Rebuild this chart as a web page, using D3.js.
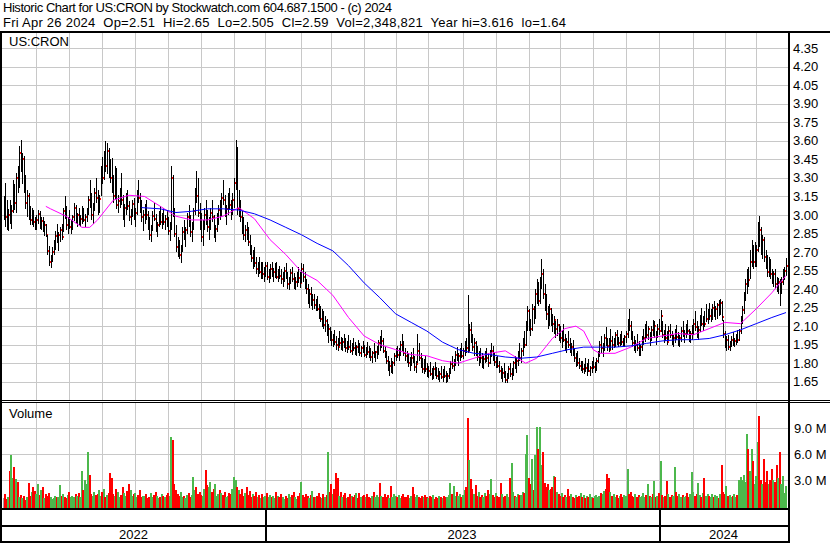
<!DOCTYPE html>
<html>
<head>
<meta charset="utf-8">
<script src="https://cdn.jsdelivr.net/npm/d3@7"></script>
<style>
html, body { margin: 0; padding: 0; background: #fff; }
svg { display: block; font-family: Arial, "Liberation Sans", sans-serif; }
text { white-space: pre; }
</style>
</head>
<body>
<svg id="chart" width="830" height="543"></svg>
<script>
// header text
const titleLine = "Historic Chart for US:CRON by Stockwatch.com 604.687.1500 - (c) 2024"
const quoteLine = "Fri Apr 26 2024  Op=2.51  Hi=2.65  Lo=2.505  Cl=2.59  Vol=2,348,821  Year hi=3.616  lo=1.64"
const symbol = "US:CRON"

// daily bars, prices in cents (May 2022 .. Apr 26 2024)
const highs = [315,326,312,305,312,308,328,325,334,340,
356,361,350,348,332,320,318,307,306,304,
298,300,304,303,298,298,295,293,284,275,
268,274,280,287,293,286,290,293,306,315,
307,298,304,296,300,310,308,302,306,300,
307,306,301,306,315,328,318,310,322,330,
320,316,340,347,352,360,358,354,345,346,
332,340,338,316,322,334,316,309,318,320,
311,305,312,314,306,320,328,318,312,304,
309,312,303,298,292,303,310,301,294,303,
307,302,306,300,304,298,294,340,332,306,
292,282,280,276,290,296,290,302,308,300,
294,306,322,336,330,310,302,296,306,312,
304,298,306,312,300,292,302,308,312,318,
328,316,308,318,322,312,318,330,361,355,
320,312,303,298,292,294,290,284,276,272,
274,266,262,266,262,262,258,262,262,256,
260,262,257,261,262,256,259,256,254,258,
261,254,250,256,258,253,250,254,258,254,
261,260,254,248,244,240,242,236,236,232,
234,228,226,224,222,218,216,212,209,206,
204,207,202,200,206,201,200,204,200,198,
203,199,196,200,197,195,199,196,194,198,
195,193,197,194,192,190,196,190,194,199,
202,207,200,194,190,186,182,184,182,188,
192,194,192,198,204,198,192,190,188,185,
189,192,186,182,204,196,188,184,183,186,
180,178,181,176,178,181,177,176,174,178,
175,178,174,172,176,182,186,183,190,193,
188,192,196,192,198,200,235,212,213,204,
200,198,194,190,192,188,186,190,192,188,
191,196,194,188,185,186,182,178,176,180,
174,172,178,180,176,182,186,184,190,196,
192,200,206,214,226,224,216,228,226,240,
248,246,250,264,256,244,236,226,228,225,
220,218,214,216,212,210,206,212,204,200,
206,200,196,199,192,188,190,184,182,182,
179,184,180,183,178,182,185,181,184,190,
198,202,196,204,209,200,200,208,202,200,
205,207,201,204,206,200,203,206,216,224,
214,206,202,199,204,198,195,202,208,212,
214,210,205,210,215,214,206,212,216,223,
214,207,212,206,210,212,206,203,208,211,
205,203,209,214,207,212,215,208,206,211,
216,222,214,210,219,225,218,222,228,224,
229,224,228,230,226,229,231,232,230,215,
206,202,203,198,202,205,200,204,207,208,
218,226,238,248,256,258,272,280,276,278,
276,294,299,290,284,282,272,268,266,264,
256,255,256,250,249,248,250,256,258,265]

const lows = [296,290,288,287,293,289,302,304,302,318,
322,335,325,318,305,298,296,292,292,290,
288,288,293,289,288,286,283,282,268,259,
257,262,268,272,277,271,278,280,286,297,
288,285,289,285,288,295,293,290,292,290,
293,294,290,294,300,306,296,293,303,310,
300,302,315,325,328,335,333,330,326,318,
310,312,305,302,306,308,296,290,300,304,
295,292,298,296,290,300,310,302,294,287,
293,296,288,280,278,287,295,286,282,290,
292,289,292,288,290,284,279,288,298,282,
270,266,264,261,270,280,274,285,290,282,
278,288,300,310,298,288,278,275,288,292,
286,280,288,294,281,278,286,292,296,298,
308,298,292,300,304,296,300,306,320,300,
298,294,285,280,278,280,275,268,262,256,
258,252,250,252,248,248,246,250,247,245,
248,250,246,249,248,246,248,244,242,246,
248,240,239,244,246,240,239,242,245,241,
245,246,240,236,228,225,226,223,224,222,
222,216,213,209,208,205,202,196,198,194,
193,195,191,190,194,191,190,192,189,188,
191,188,187,190,187,186,188,186,185,188,
185,184,187,184,182,180,184,181,183,187,
190,192,188,184,179,174,170,172,171,178,
182,184,182,186,190,186,182,180,177,174,
178,180,174,172,180,182,176,172,171,173,
169,168,170,166,167,170,167,166,165,167,
165,168,164,165,167,171,175,174,178,182,
178,182,184,183,186,188,188,190,196,190,
186,186,182,178,180,176,175,180,181,177,
179,185,182,178,176,176,172,167,165,168,
164,164,167,169,166,170,175,172,178,182,
180,186,192,194,206,206,202,206,212,216,
228,226,228,240,232,222,215,208,210,210,
205,204,200,202,198,196,192,197,190,188,
192,188,186,186,181,177,178,175,174,172,
171,173,170,173,170,172,175,172,174,180,
185,188,185,190,194,190,189,191,191,192,
193,195,193,194,195,193,193,196,200,206,
199,193,190,188,190,186,186,190,195,197,
200,199,194,198,202,200,195,200,203,205,
200,196,198,195,198,200,195,193,196,199,
194,193,197,201,196,200,203,197,196,199,
203,206,200,199,205,210,206,209,213,212,
215,213,215,217,215,216,218,219,214,200,
192,190,191,190,193,194,193,195,196,198,
204,212,220,230,236,242,248,258,256,258,
258,270,274,268,264,262,256,250,250,248,
244,242,240,238,236,226,236,243,247,250.5]

const closes = [305,298,294,300,297,303,320,310,330,325,
350,338,345,322,310,315,300,296,303,294,
291,296,301,292,295,289,292,284,271,262,
266,270,277,283,279,284,288,282,303,300,
292,295,290,293,298,306,296,300,294,297,
304,296,298,303,312,310,300,307,318,314,
305,313,336,330,348,340,352,333,330,322,
315,335,308,311,318,312,300,306,314,307,
298,303,309,300,302,317,314,306,298,300,
305,300,292,284,290,299,297,289,292,300,
294,298,294,297,292,287,290,330,304,285,
274,270,268,273,286,283,288,298,294,286,
292,303,318,315,302,294,282,292,300,296,
290,295,302,298,284,289,298,304,300,314,
312,302,305,314,308,306,312,326,350,305,
310,298,290,284,288,283,278,272,265,268,
261,256,258,254,255,252,255,259,250,253,
256,252,254,258,250,253,251,248,251,255,
250,244,247,253,248,244,246,251,249,245,
256,250,243,240,232,236,229,231,227,230,
224,220,216,219,211,214,205,208,202,199,
200,197,195,193,196,193,197,195,192,196,
193,190,194,192,189,193,191,188,192,190,
187,191,189,186,185,188,186,189,192,196,
193,198,190,187,182,177,178,175,180,186,
189,187,190,195,193,188,186,183,180,182,
184,181,177,179,190,184,178,175,178,175,
172,174,171,169,175,172,170,168,171,169,
172,170,167,170,174,179,178,181,187,184,
186,189,186,190,195,192,190,207,199,193,
196,189,185,186,184,179,183,187,184,180,
189,190,185,181,183,178,174,170,172,169,
166,170,175,171,172,180,177,182,186,184,
190,197,195,210,222,212,208,224,218,236,
244,230,246,252,236,226,220,216,224,214,
212,215,208,211,205,200,203,199,194,197,
195,190,193,188,184,186,180,178,179,175,
177,176,178,174,176,180,177,179,182,188,
195,192,194,200,196,194,191,198,195,197,
203,198,196,201,197,195,201,204,212,210,
202,196,192,195,192,189,193,199,200,206,
203,208,202,207,204,210,203,208,206,218,
203,204,200,197,206,203,198,200,205,201,
197,200,206,203,204,210,206,200,204,208,
212,209,204,207,216,212,215,212,216,221,
218,222,225,220,224,227,222,229,217,204,
196,199,193,196,199,196,198,202,199,206,
215,223,235,244,252,247,262,270,262,266,
272,290,288,274,280,266,260,254,262,252,
248,252,244,242,246,238,246,254,255,259]

// daily volume, in units of 100,000 shares
const volumes = [9,14,8,10,40,59,32,45,31,28,
10,13,9,12,7,10,27,12,16,22,
17,14,26,13,18,22,9,14,12,15,
10,8,9,12,11,10,24,12,14,10,
9,13,16,11,12,10,14,12,15,11,
40,18,30,26,62,36,14,12,16,13,
14,18,12,16,20,11,13,15,38,32,
14,12,20,16,11,13,22,15,12,17,
26,18,12,14,15,11,13,19,10,12,
12,14,9,11,15,10,13,16,12,9,
11,14,12,10,13,15,12,80,76,25,
18,14,12,16,10,12,9,13,15,11,
13,34,18,22,14,16,13,12,20,42,
24,22,28,16,20,25,12,14,18,15,
13,16,11,12,15,14,20,34,30,22,
18,14,20,12,15,22,13,17,11,14,
12,16,10,13,9,14,11,12,15,10,
13,11,12,9,16,12,10,14,11,8,
12,9,14,10,13,16,11,8,12,15,
28,13,10,14,12,9,13,17,11,10,
12,15,10,9,14,11,13,62,16,25,
14,20,38,33,12,16,10,13,15,9,
11,14,12,10,13,15,9,15,11,12,
13,10,14,11,9,12,16,10,13,11,
27,12,10,14,11,13,9,23,10,14,
12,11,13,9,12,14,10,11,13,9,
12,22,14,10,13,11,9,12,10,13,
11,9,12,10,13,8,11,9,12,10,
9,12,10,11,13,27,14,23,12,16,
12,14,10,13,18,22,102,53,31,20,
14,24,12,16,10,13,11,15,12,18,
14,31,13,11,15,12,10,27,14,11,
12,14,11,33,50,16,12,10,14,13,
13,16,15,60,82,33,25,54,18,59,
91,66,92,48,62,27,22,25,18,20,
22,35,34,16,14,12,15,11,13,10,
20,12,14,11,9,13,10,12,15,11,
13,9,12,10,14,11,9,12,13,10,
12,15,14,17,20,37,33,16,12,14,
11,13,9,12,14,10,13,12,43,14,
16,12,10,14,11,13,10,12,15,11,
13,26,12,10,14,29,11,12,15,52,
13,11,12,29,14,10,13,12,45,16,
12,14,10,13,11,12,15,10,14,39,
16,12,14,27,13,11,15,33,12,14,
12,10,14,11,13,12,9,14,48,16,
14,23,12,13,10,12,14,11,13,30,
34,30,36,28,83,66,40,66,52,25,
35,74,104,30,26,54,28,41,25,30,
43,30,28,47,33,63,25,35,15,23]

// moving averages: [bar index, price]
const pinkMA = [[27,3.07],[30,3.05],[40,2.99],[50,2.90],[55,2.90],[60,2.96],[70,3.12],[80,3.16],[90,3.15],
  [100,3.07],[110,2.99],[120,2.96],[130,2.96],[140,2.99],[150,3.06],[160,2.97],[170,2.80],[180,2.68],
  [190,2.54],[200,2.47],[210,2.35],[220,2.17],[230,2.02],[240,1.95],[250,1.91],[260,1.87],[270,1.86],
  [280,1.82],[290,1.80],[300,1.84],[310,1.88],[320,1.90],[333,1.80],[340,1.84],[350,2.00],[358,2.08],
  [365,2.10],[370,2.06],[376,1.91],[380,1.88],[390,1.88],[400,1.93],[410,2.00],[420,2.02],[430,2.04],
  [440,2.03],[450,2.08],[460,2.13],[470,2.12],[480,2.24],[490,2.37],[499,2.51]]
const blueMA = [[88,3.06],[100,3.05],[110,3.02],[120,3.03],[130,3.05],[140,3.05],[150,3.04],[160,3.01],
  [170,2.96],[180,2.90],[190,2.84],[200,2.77],[210,2.71],[220,2.59],[230,2.45],[240,2.33],[250,2.20],
  [260,2.13],[270,2.06],[280,1.97],[290,1.91],[300,1.88],[310,1.87],[320,1.85],[330,1.84],[340,1.85],
  [350,1.88],[360,1.91],[370,1.93],[380,1.93],[390,1.93],[400,1.94],[410,1.96],[420,1.98],[430,1.99],
  [440,1.99],[450,2.00],[460,2.03],[470,2.07],[480,2.12],[490,2.17],[499,2.21]]

// bar index of the first session of each month (Jun 2022 .. Apr 2024)
const monthStarts = [21,42,63,84,105,126,147,167,190,209,230,250,271,293,314,335,355,376,397,418,440,460,480]
const yearStarts = [0, 167, 418]
const yearLabels = ["2022", "2023", "2024"]
const priceTicks = [4.35,4.20,4.05,3.90,3.75,3.60,3.45,3.30,3.15,3.00,2.85,2.70,2.55,2.40,2.25,2.10,1.95,1.80,1.65]
const volTicks = [3, 6, 9]

const bars = closes.map((c, i) => ({
    i: i,
    hi: highs[i] / 100,
    lo: lows[i] / 100,
    cl: c / 100,
    vol: volumes[i] / 10,
    dir: i === 0 ? 0 : Math.sign(c - closes[i - 1])
}))

// layout
const W = 830, H = 543
const plotL = 2, plotR = 788
const priceTop = 33, priceBot = 400
const volTop = 403, volBot = 508

const svg = d3.select("#chart")

const x = d3.scaleLinear().domain([0, bars.length - 1]).range([3.5, 786])
const y = d3.scaleLinear().domain([1.65, 4.35]).range([381.7, 48.3])
const yv = d3.scaleLinear().domain([0, 9]).range([506, 428.3])
const px = i => Math.round(x(i))

const GRID = "#c8c8c8"

// grid - price panel
const grid = svg.append("g").attr("shape-rendering", "crispEdges").attr("stroke", GRID).attr("stroke-width", 1)
grid.selectAll(".vp").data(monthStarts).enter().append("line")
    .attr("x1", d => px(d) + 0.5).attr("x2", d => px(d) + 0.5)
    .attr("y1", priceTop).attr("y2", priceBot)
grid.selectAll(".hp").data(priceTicks).enter().append("line")
    .attr("x1", plotL).attr("x2", plotR)
    .attr("y1", d => Math.round(y(d)) + 0.5).attr("y2", d => Math.round(y(d)) + 0.5)
// grid - volume panel
grid.selectAll(".vv").data(monthStarts).enter().append("line")
    .attr("x1", d => px(d) + 0.5).attr("x2", d => px(d) + 0.5)
    .attr("y1", volTop).attr("y2", volBot)
grid.selectAll(".hv").data(volTicks).enter().append("line")
    .attr("x1", plotL).attr("x2", plotR)
    .attr("y1", d => Math.round(yv(d)) + 0.5).attr("y2", d => Math.round(yv(d)) + 0.5)

// volume bars
const volColor = d => d.dir > 0 ? "#4cb84c" : d.dir < 0 ? "#ff0000" : "#a0a0a0"
svg.append("g").attr("shape-rendering", "crispEdges")
    .selectAll("rect").data(bars).enter().append("rect")
    .attr("x", d => px(d.i) - 1)
    .attr("width", 2)
    .attr("y", d => Math.round(yv(d.vol)))
    .attr("height", d => volBot - Math.round(yv(d.vol)))
    .attr("fill", volColor)

// price bars, each with its red close mark
const pb = svg.append("g").attr("shape-rendering", "crispEdges")
    .selectAll("g").data(bars).enter().append("g")
pb.append("rect")
    .attr("x", d => px(d.i))
    .attr("width", 1)
    .attr("y", d => Math.round(y(d.hi)))
    .attr("height", d => Math.max(2, Math.round(y(d.lo)) - Math.round(y(d.hi))))
    .attr("fill", "#000")
pb.append("rect")
    .attr("x", d => px(d.i) + 1)
    .attr("width", 1)
    .attr("y", d => Math.round(y(d.cl)) - 1)
    .attr("height", 2)
    .attr("fill", "#ff0000")

// moving averages
const maLine = d3.line().x(d => x(d[0])).y(d => y(d[1]))
svg.append("path").datum(pinkMA).attr("d", maLine)
    .attr("fill", "none").attr("stroke", "#ff00ff").attr("stroke-width", 1)
svg.append("path").datum(blueMA).attr("d", maLine)
    .attr("fill", "none").attr("stroke", "#0000ff").attr("stroke-width", 1)

// frame
const frame = svg.append("g").attr("fill", "#000").attr("shape-rendering", "crispEdges")
frame.append("rect").attr("x", 0).attr("y", 31).attr("width", W).attr("height", 2)
frame.append("rect").attr("x", 0).attr("y", 31).attr("width", 2).attr("height", H - 31)
frame.append("rect").attr("x", plotR).attr("y", 31).attr("width", 2).attr("height", H - 31)
frame.append("rect").attr("x", 0).attr("y", priceBot).attr("width", W).attr("height", 1)
frame.append("rect").attr("x", 0).attr("y", priceBot + 2).attr("width", W).attr("height", 1)
frame.append("rect").attr("x", 0).attr("y", volBot).attr("width", plotR + 2).attr("height", 2)
frame.append("rect").attr("x", 0).attr("y", 525).attr("width", plotR + 2).attr("height", 2)
frame.append("rect").attr("x", 0).attr("y", 541).attr("width", plotR + 2).attr("height", 2)
frame.selectAll(".ysep").data(yearStarts.slice(1)).enter().append("rect")
    .attr("x", d => px(d)).attr("y", volBot).attr("width", 2).attr("height", H - volBot)

// texts
const txt = svg.append("g").attr("font-size", 13).attr("fill", "#000")
txt.append("text").attr("x", 3).attr("y", 12).attr("textLength", 389).text(titleLine)
txt.append("text").attr("x", 3).attr("y", 27).attr("textLength", 563).text(quoteLine)
txt.append("text").attr("x", 9).attr("y", 46).text(symbol)
txt.append("text").attr("x", 9).attr("y", 418).text("Volume")

txt.selectAll(".pt").data(priceTicks).enter().append("text")
    .attr("x", 793).attr("y", d => y(d) + 4.5)
    .text(d => d.toFixed(2))
txt.selectAll(".vt").data(volTicks).enter().append("text")
    .attr("x", 794).attr("y", d => yv(d) + 4.5)
    .text(d => d.toFixed(1) + " M")

const yearEdges = yearStarts.map(s => s === 0 ? plotL : px(s)).concat([plotR])
txt.selectAll(".yr").data(yearLabels).enter().append("text")
    .attr("x", (d, k) => (yearEdges[k] + yearEdges[k + 1]) / 2)
    .attr("y", 539)
    .attr("text-anchor", "middle")
    .text(d => d)
</script>
</body>
</html>
